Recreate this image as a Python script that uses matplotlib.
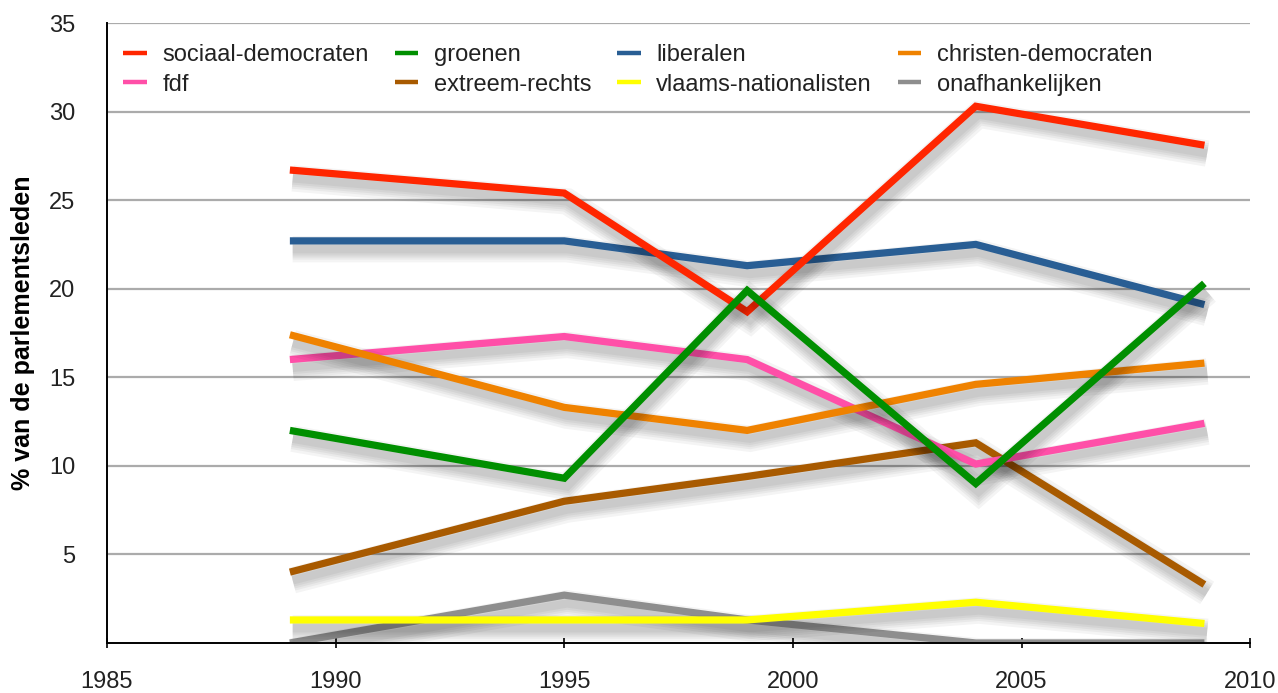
import matplotlib
matplotlib.use("Agg")
import matplotlib.pyplot as plt
import matplotlib.patheffects as pe
from matplotlib.lines import Line2D

years = [1989, 1995, 1999, 2004, 2009]
series_names = ["sociaal-democraten", "fdf", "groenen", "extreem-rechts",
                "liberalen", "vlaams-nationalisten", "christen-democraten", "onafhankelijken"]
sociaal_democraten = [26.7, 25.4, 18.7, 30.3, 28.1]
fdf = [16.0, 17.3, 16.0, 10.1, 12.4]
groenen = [12.0, 9.3, 19.9, 9.0, 20.3]
extreem_rechts = [4.0, 8.0, 9.4, 11.3, 3.3]
liberalen = [22.7, 22.7, 21.3, 22.5, 19.1]
vlaams_nationalisten = [1.3, 1.3, 1.3, 2.3, 1.1]
christen_democraten = [17.4, 13.3, 12.0, 14.6, 15.8]
onafhankelijken = [0.0, 2.7, 1.3, 0.0, 0.0]

values = [sociaal_democraten, fdf, groenen, extreem_rechts,
          liberalen, vlaams_nationalisten, christen_democraten, onafhankelijken]
colors = ["#FF2600", "#FF4FA8", "#008F00", "#A85A00",
          "#295E94", "#FFFF00", "#EF8200", "#8E8E8E"]
zorder = [5, 3, 6, 2, 4, 2.5, 3.5, 2.2]

x_ticks = [1985, 1990, 1995, 2000, 2005, 2010]
y_ticks = [5, 10, 15, 20, 25, 30, 35]

plt.rcParams['font.family'] = ['Liberation Sans', 'DejaVu Sans']

fig = plt.figure(figsize=(12.78, 6.93), dpi=100)
ax = fig.add_axes([0.0837, 0.0722, 0.8945, 0.8946])

shadow = [pe.Stroke(linewidth=5 + k, foreground='black', alpha=0.045, offset=(2, -6))
          for k in (14, 10, 7, 4, 1)] + [pe.Normal()]

for name, vals, c, z in zip(series_names, values, colors, zorder):
    ax.plot(years, vals, color=c, lw=5.2, solid_capstyle='butt',
            solid_joinstyle='miter', zorder=z, label=name, path_effects=shadow)

ax.set_xlim(1985, 2010)
ax.set_ylim(0, 35)
ax.set_xticks(x_ticks)
ax.set_yticks(y_ticks)
for y in y_ticks:
    ax.axhline(y, color='#ababab', lw=1.6, zorder=1)

for s in ['top', 'right']:
    ax.spines[s].set_visible(False)
ax.spines['left'].set_linewidth(1.4)
ax.spines['bottom'].set_linewidth(1.4)
ax.tick_params(axis='y', length=0, pad=23, labelsize=17, labelcolor='#222222')
ax.tick_params(axis='x', direction='inout', length=7, width=1.2, pad=17,
               labelsize=17, labelcolor='#222222')
ax.set_ylabel("% van de parlementsleden", fontsize=18, fontweight='bold', labelpad=10)

leg_handles = [Line2D([], [], color=c, lw=3.2, solid_capstyle='butt') for c in colors]
leg = ax.legend(leg_handles, series_names, ncol=4, loc='upper left',
                bbox_to_anchor=(0.0, 0.992), frameon=False, fontsize=17,
                handlelength=1.0, handletextpad=0.65, columnspacing=1.1,
                labelspacing=0.3, borderaxespad=0.3)
for t in leg.get_texts():
    t.set_color('#222222')

fig.savefig("out.png", dpi=100)
